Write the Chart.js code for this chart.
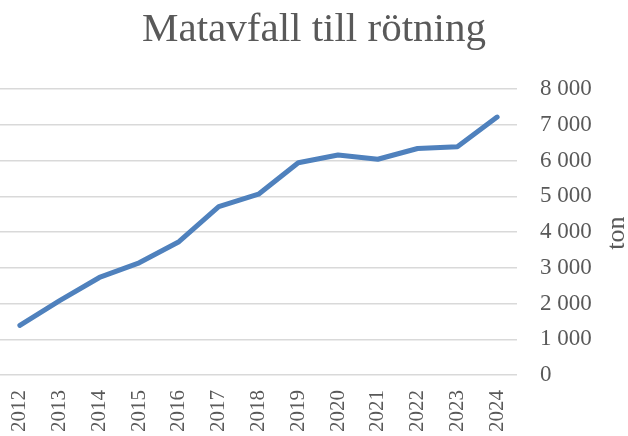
<!DOCTYPE html>
<html>
<head>
<meta charset="utf-8">
<script src="https://cdn.jsdelivr.net/npm/chart.js@4/dist/chart.umd.min.js"></script>
<style>
  html, body { margin: 0; padding: 0; background: #fff; overflow: hidden; }
  #wrap { width: 628px; height: 436px; }
</style>
</head>
<body>
<div id="wrap"><canvas id="chart" width="628" height="436"></canvas></div>
<script>
// data (ton per year)
const years = ['2012', '2013', '2014', '2015', '2016', '2017', '2018', '2019', '2020', '2021', '2022', '2023', '2024'];
const tonnes = [1390, 2080, 2730, 3140, 3730, 4710, 5060, 5940, 6160, 6040, 6340, 6390, 7220];
const yTicks = [0, 1000, 2000, 3000, 4000, 5000, 6000, 7000, 8000];

const textColor = '#595959';
const serif = "'Liberation Serif', 'DejaVu Serif', serif";

// space as thousands separator, like "8 000"
const fmt = (v) => String(v).replace(/\B(?=(\d{3})+(?!\d))/g, ' ');

// axis title "ton" reads bottom-to-top on the right side
const tonTitle = {
  id: 'tonTitle',
  afterDraw(chart) {
    const { ctx, chartArea } = chart;
    ctx.save();
    ctx.translate(617, (chartArea.top + chartArea.bottom) / 2 + 1);
    ctx.rotate(-Math.PI / 2);
    ctx.fillStyle = textColor;
    ctx.font = '26px ' + serif;
    ctx.textAlign = 'center';
    ctx.textBaseline = 'middle';
    ctx.fillText('ton', 0, 0);
    ctx.restore();
  }
};

new Chart(document.getElementById('chart').getContext('2d'), {
  type: 'line',
  data: {
    labels: years,
    datasets: [{
      label: 'Matavfall till rötning',
      data: tonnes,
      borderColor: '#4f81bd',
      borderWidth: 5,
      borderCapStyle: 'round',
      borderJoinStyle: 'round',
      pointRadius: 0,
      tension: 0,
      fill: false
    }]
  },
  options: {
    responsive: false,
    animation: false,
    layout: { padding: 0 },
    plugins: {
      legend: { display: false },
      tooltip: { enabled: false },
      title: {
        display: true,
        text: 'Matavfall till rötning',
        color: textColor,
        font: { family: serif, size: 41, weight: 'normal' },
        padding: { top: 6, bottom: 34 }
      }
    },
    scales: {
      x: {
        offset: true,
        grid: { display: false, drawTicks: false },
        border: { display: false },
        afterFit(scale) { scale.height = 61; },
        ticks: {
          color: textColor,
          font: { family: serif, size: 21 },
          minRotation: 90,
          maxRotation: 90,
          padding: 15,
          autoSkip: false
        }
      },
      y: {
        position: 'right',
        min: 0,
        max: 8000,
        afterBuildTicks(scale) {
          scale.ticks = yTicks.map(v => ({ value: v }));
        },
        afterFit(scale) { scale.width = 111; },
        grid: { color: '#d9d9d9', lineWidth: 1.5, drawTicks: false },
        border: { display: false },
        ticks: {
          color: textColor,
          font: { family: serif, size: 23 },
          padding: 23,
          callback: (v) => fmt(v)
        }
      }
    }
  },
  plugins: [tonTitle]
});
</script>
</body>
</html>
